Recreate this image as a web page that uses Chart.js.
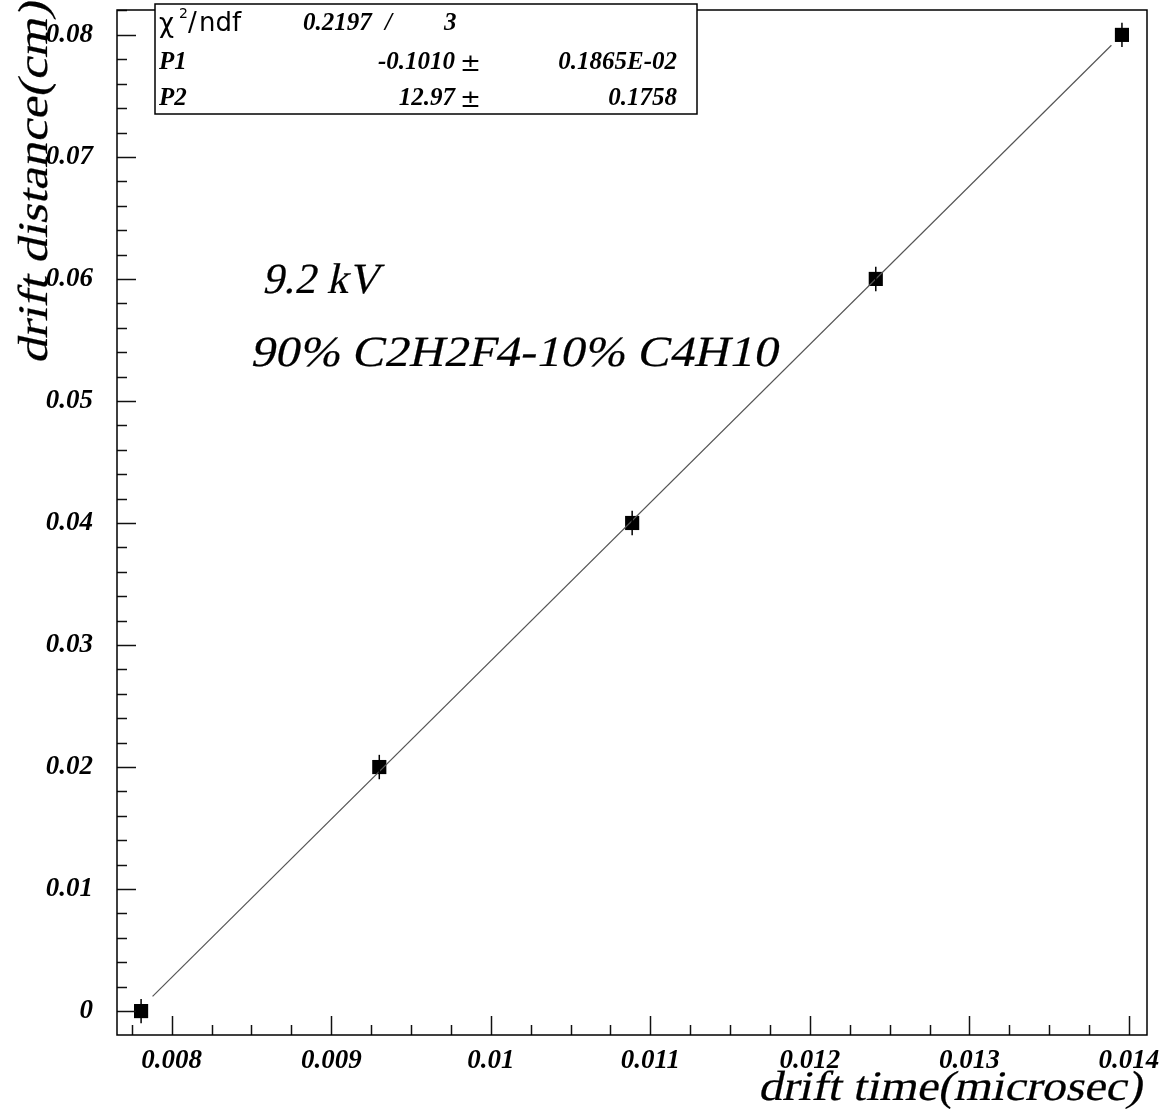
<!DOCTYPE html>
<html>
<head>
<meta charset="utf-8">
<script src="https://cdn.jsdelivr.net/npm/chart.js@4.4.1/dist/chart.umd.min.js"></script>
<style>
    html, body { margin: 0; padding: 0; background: #fff; }
    canvas { display: block; }
</style>
</head>
<body>
<canvas id="driftChart" width="1168" height="1117"></canvas>
<script>
const driftTime = [0.007808, 0.009301, 0.010886, 0.012413, 0.013956];
const driftDistance = [0.0, 0.02, 0.04, 0.06, 0.08];
const distanceError = [0.001, 0.001, 0.001, 0.001, 0.001];

// Straight line fit: distance = P1 + P2 * time
const fitParams = [-0.1010, 12.97];
const fitRange = [0.00788, 0.01389];

// Axis ticks
const xTicks = [0.008, 0.009, 0.010, 0.011, 0.012, 0.013, 0.014];
const xTickLabels = ['0.008', '0.009', '0.01', '0.011', '0.012', '0.013', '0.014'];
const yTicks = [0, 0.01, 0.02, 0.03, 0.04, 0.05, 0.06, 0.07, 0.08];
const yTickLabels = ['0', '0.01', '0.02', '0.03', '0.04', '0.05', '0.06', '0.07', '0.08'];

const SERIF = '"Liberation Serif", "DejaVu Serif", serif';

// upright serif, slanted by hand and fitted to a given width
function slantText(ctx, text, x, y, width, align) {
    const w = ctx.measureText(text).width;
    ctx.save();
    ctx.translate(x, y);
    ctx.transform(1, 0, -0.22, 1, 0, 0);
    ctx.scale(width / w, 1);
    ctx.textAlign = align;
    ctx.fillText(text, 0, 0);
    ctx.lineWidth = 0.2;
    ctx.strokeStyle = '#000';
    ctx.strokeText(text, 0, 0);
    ctx.restore();
}

// Error bars on the points
const errorBars = {
    id: 'errorBars',
    afterDatasetsDraw(chart) {
        const { ctx, scales: { x, y } } = chart;
        ctx.save();
        ctx.strokeStyle = '#000';
        ctx.lineWidth = 1.5;
        driftTime.forEach((t, i) => {
            const px = x.getPixelForValue(t);
            ctx.beginPath();
            ctx.moveTo(px, y.getPixelForValue(driftDistance[i] - distanceError[i]));
            ctx.lineTo(px, y.getPixelForValue(driftDistance[i] + distanceError[i]));
            ctx.stroke();
        });
        ctx.restore();
    }
};

// Inner ticks, frame, titles and the fit box
const frameAndTicks = {
    id: 'frameAndTicks',
    afterDraw(chart) {
        const { ctx, chartArea: a, scales: { x, y } } = chart;
        ctx.save();
        ctx.strokeStyle = '#111';
        ctx.lineWidth = 1.5;

        // x minor ticks every 0.00025
        for (let v = 0.00775; v < x.max; v += 0.00025) {
            const px = Math.round(x.getPixelForValue(v)) + 0.5;
            const major = xTicks.some(t => Math.abs(t - v) < 1e-7);
            ctx.beginPath();
            ctx.moveTo(px, a.bottom);
            ctx.lineTo(px, a.bottom - (major ? 19 : 10));
            ctx.stroke();
        }
        // y minor ticks every 0.002
        for (let v = 0; v < y.max; v += 0.002) {
            const py = Math.round(y.getPixelForValue(v)) + 0.5;
            const major = yTicks.some(t => Math.abs(t - v) < 1e-7);
            ctx.beginPath();
            ctx.moveTo(a.left, py);
            ctx.lineTo(a.left + (major ? 19 : 10), py);
            ctx.stroke();
        }

        ctx.strokeStyle = '#000';
        ctx.strokeRect(a.left, a.top, a.right - a.left, a.bottom - a.top);

        // axis titles
        ctx.fillStyle = '#000';
        ctx.textBaseline = 'alphabetic';
        ctx.font = '42px ' + SERIF;
        slantText(ctx, 'drift time(microsec)', 1142, 1100, 384, 'right');
        ctx.save();
        ctx.translate(47, 364);
        ctx.rotate(-Math.PI / 2);
        slantText(ctx, 'drift distance(cm)', 0, 0, 362, 'left');
        ctx.restore();

        // annotations
        ctx.font = '43px ' + SERIF;
        slantText(ctx, '9.2 kV', 262, 293, 117, 'left');
        slantText(ctx, '90% C2H2F4-10% C4H10', 250, 366, 527, 'left');

        // fit statistics box
        ctx.fillStyle = '#fff';
        ctx.fillRect(155, 4, 542, 110);
        ctx.strokeStyle = '#000';
        ctx.lineWidth = 1.5;
        ctx.strokeRect(155, 4, 542, 110);

        ctx.fillStyle = '#000';
        ctx.textBaseline = 'middle';
        ctx.textAlign = 'left';
        ctx.font = '26px "DejaVu Sans", sans-serif';
        ctx.fillText('\u03c7', 159, 25);
        ctx.font = '14px "DejaVu Sans", sans-serif';
        ctx.fillText('2', 179, 14);
        ctx.font = '26px "DejaVu Sans", sans-serif';
        ctx.fillText('/', 188, 24);
        ctx.fillText('ndf', 199, 24);

        ctx.font = 'bold italic 25px ' + SERIF;
        ctx.fillText('0.2197', 303, 24);
        ctx.fillText('/', 385, 24);
        ctx.fillText('3', 444, 24);
        ctx.fillText('P1', 159, 63);
        ctx.fillText('P2', 159, 99);
        ctx.textAlign = 'right';
        ctx.fillText('-0.1010', 455, 63);
        ctx.fillText('12.97', 455, 99);
        ctx.fillText('0.1865E-02', 677, 63);
        ctx.fillText('0.1758', 677, 99);
        ctx.textAlign = 'left';
        ctx.font = '25px "DejaVu Sans", sans-serif';
        ctx.fillText('\u00b1', 460, 64);
        ctx.fillText('\u00b1', 460, 100);
        ctx.restore();
    }
};

const ctx = document.getElementById('driftChart').getContext('2d');
new Chart(ctx, {
    type: 'scatter',
    data: {
        datasets: [{
            type: 'line',
            data: fitRange.map(t => ({ x: t, y: fitParams[0] + fitParams[1] * t })),
            borderColor: '#555',
            borderWidth: 1.2,
            pointRadius: 0,
            fill: false
        }, {
            data: driftTime.map((t, i) => ({ x: t, y: driftDistance[i] })),
            pointStyle: 'rect',
            pointRadius: 10,
            backgroundColor: '#000',
            borderColor: '#000',
            borderWidth: 0
        }]
    },
    options: {
        responsive: false,
        animation: false,
        layout: { padding: { top: 4, right: 21, left: 0, bottom: 0 } },
        plugins: {
            legend: { display: false },
            tooltip: { enabled: false }
        },
        scales: {
            x: {
                type: 'linear',
                min: 0.007657,
                max: 0.014113,
                afterBuildTicks: axis => { axis.ticks = xTicks.map(v => ({ value: v })); },
                afterFit: axis => {
                    axis.height = 82;
                    axis.paddingLeft = 0;
                    axis.paddingRight = 0;
                },
                grid: { display: false, drawTicks: false },
                border: { display: false },
                ticks: {
                    padding: 10,
                    maxRotation: 0,
                    color: '#000',
                    font: { family: SERIF, size: 27, style: 'italic', weight: 'bold' },
                    callback: (v, i) => xTickLabels[i]
                }
            },
            y: {
                type: 'linear',
                min: -0.00196,
                max: 0.08204,
                afterBuildTicks: axis => { axis.ticks = yTicks.map(v => ({ value: v })); },
                afterFit: axis => {
                    axis.width = 117;
                    axis.paddingTop = 0;
                    axis.paddingBottom = 0;
                },
                grid: { display: false, drawTicks: false },
                border: { display: false },
                ticks: {
                    padding: 24,
                    color: '#000',
                    font: { family: SERIF, size: 27, style: 'italic', weight: 'bold' },
                    callback: (v, i) => yTickLabels[i]
                }
            }
        }
    },
    plugins: [errorBars, frameAndTicks]
});
</script>
</body>
</html>
